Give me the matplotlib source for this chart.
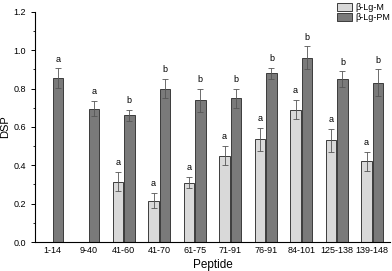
import numpy as np
import matplotlib
matplotlib.use("Agg")
import matplotlib.pyplot as plt
from matplotlib.ticker import MultipleLocator

peptides = ["1-14", "9-40", "41-60", "41-70", "61-75", "71-91", "76-91", "84-101", "125-138", "139-148"]
m_vals = [np.nan, np.nan, 0.315, 0.215, 0.31, 0.45, 0.535, 0.69, 0.53, 0.42]
m_err = [np.nan, np.nan, 0.05, 0.04, 0.03, 0.05, 0.06, 0.05, 0.06, 0.05]
pm_vals = [0.855, 0.695, 0.66, 0.80, 0.74, 0.75, 0.88, 0.96, 0.85, 0.83]
pm_err = [0.05, 0.04, 0.03, 0.05, 0.06, 0.05, 0.03, 0.06, 0.04, 0.07]
m_letters = ["", "", "a", "a", "a", "a", "a", "a", "a", "a"]
pm_letters = ["a", "a", "b", "b", "b", "b", "b", "b", "b", "b"]

plt.rcParams['font.family'] = ['Liberation Sans', 'DejaVu Sans']

fig = plt.figure(figsize=(3.92, 2.71), dpi=100)
ax = fig.add_axes([0.089, 0.107, 0.906, 0.849])

x = np.arange(len(peptides))
w = 0.29
off = 0.16
ec = '#3c3c3c'
ax.bar(x - off, m_vals, w, color='#d9d9d9', edgecolor=ec, linewidth=0.7, label='β-Lg-M')
ax.bar(x + off, pm_vals, w, color='#7a7a7a', edgecolor=ec, linewidth=0.7, label='β-Lg-PM')
ax.errorbar(x - off, m_vals, yerr=m_err, fmt='none', ecolor='#555555', elinewidth=0.6, capsize=2, capthick=0.6)
ax.errorbar(x + off, pm_vals, yerr=pm_err, fmt='none', ecolor='#555555', elinewidth=0.6, capsize=2, capthick=0.6)

for i in range(len(peptides)):
    if m_letters[i]:
        ax.text(x[i] - off, m_vals[i] + m_err[i] + 0.025, m_letters[i], ha='center', va='bottom', fontsize=6.5)
    ax.text(x[i] + off, pm_vals[i] + pm_err[i] + 0.025, pm_letters[i], ha='center', va='bottom', fontsize=6.5)

ax.set_xlim(-0.5, 9.5)
ax.set_ylim(0, 1.2)
ax.set_xticks(x)
ax.set_xticklabels(peptides, fontsize=6.5)
ax.yaxis.set_major_locator(MultipleLocator(0.2))
ax.yaxis.set_minor_locator(MultipleLocator(0.1))
ax.yaxis.set_major_formatter(matplotlib.ticker.FormatStrFormatter('%.1f'))
ax.tick_params(axis='y', labelsize=6.5, length=3, width=0.7)
ax.tick_params(axis='y', which='minor', length=1.8, width=0.6)
ax.tick_params(axis='x', length=0, pad=3)
ax.spines['top'].set_visible(False)
ax.spines['right'].set_visible(False)
ax.spines['left'].set_linewidth(0.8)
ax.spines['bottom'].set_linewidth(0.8)
ax.set_xlabel('Peptide', fontsize=8.5, labelpad=3)
ax.set_ylabel('DSP', fontsize=8, labelpad=2)

ax.legend(loc='upper right', bbox_to_anchor=(1.01, 1.055), frameon=False, fontsize=6.5,
          handlelength=1.7, handleheight=1.0, labelspacing=0.1, handletextpad=0.3, borderaxespad=0)

fig.savefig('out.png', dpi=100)
